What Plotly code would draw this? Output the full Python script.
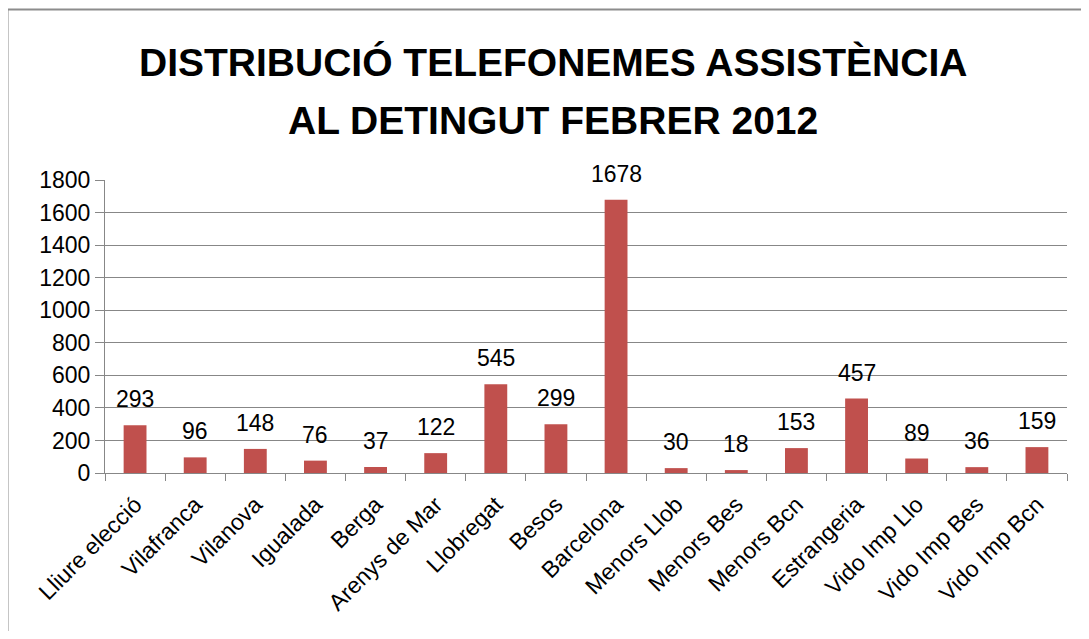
import plotly.graph_objects as go

categories = ["Lliure elecció", "Vilafranca", "Vilanova", "Igualada", "Berga",
              "Arenys de Mar", "Llobregat", "Besos", "Barcelona", "Menors Llob",
              "Menors Bes", "Menors Bcn", "Estrangeria", "Vido Imp Llo",
              "Vido Imp Bes", "Vido Imp Bcn"]
values = [293, 96, 148, 76, 37, 122, 545, 299, 1678, 30, 18, 153, 457, 89, 36, 159]
y_ticks = [0, 200, 400, 600, 800, 1000, 1200, 1400, 1600, 1800]
title_lines = ["DISTRIBUCIÓ TELEFONEMES ASSISTÈNCIA", "AL DETINGUT FEBRER 2012"]

FONT = "Liberation Sans"
O = 8  # page body margin offset
W, H = 1081, 623
# reference screen positions of plot area
sx0, sx1, sy0, sy1 = 105, 1067, 180, 473
L = sx0 - O
T = sy0 - O
R = W - (sx1 - O)
B = H - (sy1 - O)
pw = W - L - R
ph = H - T - B

fig = go.Figure(go.Bar(
    x=categories, y=values, marker=dict(color="#C0504D", line=dict(width=0)),
    width=0.38, showlegend=False, hoverinfo="x+y"))

annotations = []
for c, v in zip(categories, values):
    annotations.append(dict(x=c, y=v, xref="x", yref="y", text=str(v), showarrow=False,
                            yanchor="bottom", yshift=11,
                            font=dict(family=FONT, size=23, color="#000000")))

def px_x(px):
    return (px - O - L) / pw

def px_y(py):
    return (H - B - (py - O)) / ph

for line, cy in zip(title_lines, [62, 120]):
    annotations.append(dict(x=px_x(553), y=px_y(cy), xref="paper", yref="paper",
                            text=line, showarrow=False, xanchor="center", yanchor="middle",
                            font=dict(family=FONT, size=39, color="#000000", weight="bold")))

fig.update_layout(
    width=W, height=H,
    margin=dict(l=L, r=R, t=T, b=B, autoexpand=False),
    paper_bgcolor="white", plot_bgcolor="white",
    font=dict(family=FONT, size=23, color="#000000"),
    annotations=annotations,
    shapes=[dict(type="rect", xref="paper", yref="paper",
                 x0=px_x(7.5), x1=px_x(1120),
                 y0=px_y(700), y1=px_y(9.5),
                 line=dict(color="#8C8C8C", width=2), fillcolor="rgba(0,0,0,0)", layer="below")],
)
fig.update_yaxes(range=[0, 1800], tickvals=y_ticks, showgrid=True, gridcolor="#878787",
                 gridwidth=1, showline=True, linecolor="#878787", linewidth=1,
                 ticks="outside", ticklen=9, tickcolor="#878787", zeroline=False,
                 tickfont=dict(family=FONT, size=23, color="#000000"), fixedrange=True)
fig.update_xaxes(tickangle=-45, showline=True, linecolor="#878787", linewidth=1,
                 ticks="outside", ticklen=7, tickcolor="#878787", tickson="boundaries",
                 ticklabelstandoff=8,
                 showgrid=False, tickfont=dict(family=FONT, size=23, color="#000000"),
                 fixedrange=True)

fig.write_html("out.html")
